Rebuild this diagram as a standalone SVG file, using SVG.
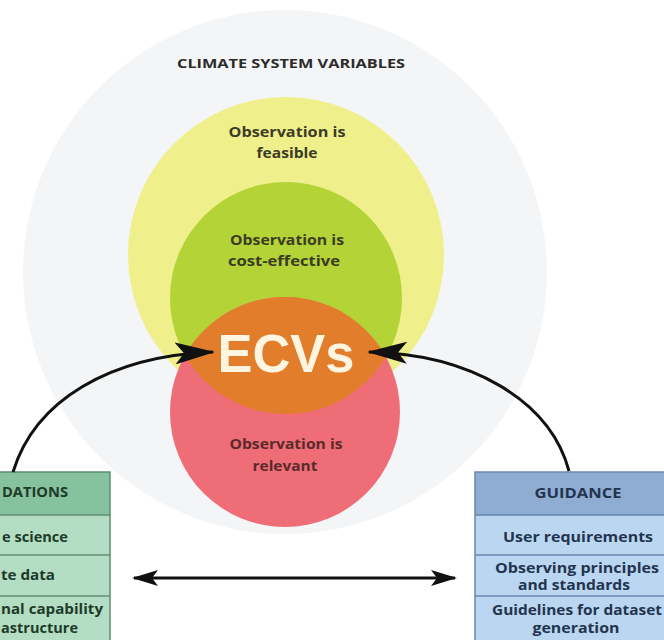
<svg xmlns="http://www.w3.org/2000/svg" width="664" height="640" viewBox="0 0 664 640">
<style>
.lbl{font-family:"Open Sans","Liberation Sans",Arial,sans-serif;font-weight:700;text-anchor:middle}
.circ{font-size:13.5px;fill:#3b3b26}
.box{font-size:13.5px}
.gtxt{fill:#1e3a28}
.btxt{fill:#23344f}
.conn{fill:none;stroke:#111;stroke-width:3}
</style>
<defs>
<marker id="headBig" markerUnits="userSpaceOnUse" viewBox="0 0 40 22" refX="38" refY="11" markerWidth="40" markerHeight="22" orient="auto">
<path d="M0,0 L40,11 L0,22 L9,11 Z" fill="#111"/>
</marker>
<marker id="headSmall" markerUnits="userSpaceOnUse" viewBox="0 0 26 16" refX="24" refY="8" markerWidth="26" markerHeight="16" orient="auto-start-reverse">
<path d="M0,0 L26,8 L0,16 L6,8 Z" fill="#111"/>
</marker>
<clipPath id="greenClip"><circle cx="286" cy="298" r="116"/></clipPath>
</defs>
<rect width="664" height="640" fill="#ffffff"/>

<g id="climate-system-variables">
<circle cx="285" cy="272" r="262" fill="#f4f5f6"/>
<text class="lbl" x="291" y="68" font-size="13" fill="#2b2b2b" textLength="228" lengthAdjust="spacingAndGlyphs">CLIMATE SYSTEM VARIABLES</text>
</g>

<g id="feasible">
<circle cx="286" cy="255" r="158" fill="#eff08b"/>
<text class="lbl circ" x="287" y="137" textLength="117" lengthAdjust="spacingAndGlyphs">Observation is</text>
<text class="lbl circ" x="287" y="158" textLength="61" lengthAdjust="spacingAndGlyphs">feasible</text>
</g>

<g id="cost-effective">
<circle cx="286" cy="298" r="116" fill="#b4d336"/>
<text class="lbl circ" x="287" y="245" textLength="114" lengthAdjust="spacingAndGlyphs">Observation is</text>
<text class="lbl circ" x="284" y="266" textLength="112" lengthAdjust="spacingAndGlyphs">cost-effective</text>
</g>

<g id="relevant">
<circle cx="285" cy="412" r="115" fill="#ee6d77"/>
<text class="lbl circ" x="286" y="449" textLength="113" lengthAdjust="spacingAndGlyphs" style="fill:#5a2a2c">Observation is</text>
<text class="lbl circ" x="285" y="471" textLength="65" lengthAdjust="spacingAndGlyphs" style="fill:#5a2a2c">relevant</text>
</g>

<g id="ecvs">
<circle cx="285" cy="412" r="115" fill="#e27d2b" clip-path="url(#greenClip)"/>
<text x="286" y="372" font-family="'Liberation Sans',Arial,sans-serif" font-weight="700" font-size="53" fill="#fff5e1" text-anchor="middle" textLength="137" lengthAdjust="spacingAndGlyphs">ECVs</text>
</g>

<g id="foundations">
<rect x="-100" y="472" width="210" height="43" fill="#86c29e"/>
<rect x="-100" y="515" width="210" height="130" fill="#b3dec4"/>
<path d="M-100,472 H110 V645 M-100,515 H110 M-100,555 H110 M-100,596 H110" fill="none" stroke="#5f8f72" stroke-width="1.5"/>
<text class="lbl box gtxt" x="68" y="497" style="text-anchor:end" textLength="66" lengthAdjust="spacingAndGlyphs">DATIONS</text>
<text class="lbl box gtxt" x="68" y="542" style="text-anchor:end" textLength="66" lengthAdjust="spacingAndGlyphs">e science</text>
<text class="lbl box gtxt" x="55" y="580" style="text-anchor:end" textLength="54" lengthAdjust="spacingAndGlyphs">te data</text>
<text class="lbl box gtxt" x="103" y="614" style="text-anchor:end" textLength="102" lengthAdjust="spacingAndGlyphs">nal capability</text>
<text class="lbl box gtxt" x="78" y="633" style="text-anchor:end" textLength="77" lengthAdjust="spacingAndGlyphs">astructure</text>
</g>

<g id="guidance">
<rect x="475" y="472" width="210" height="43" fill="#8fadd2"/>
<rect x="475" y="515" width="210" height="130" fill="#bad6f0"/>
<path d="M685,472 H475 V645 M475,515 H685 M475,555 H685 M475,596 H685" fill="none" stroke="#6a88ad" stroke-width="1.5"/>
<text class="lbl box btxt" x="578" y="498" textLength="87" lengthAdjust="spacingAndGlyphs">GUIDANCE</text>
<text class="lbl box btxt" x="578" y="542" textLength="150" lengthAdjust="spacingAndGlyphs">User requirements</text>
<text class="lbl box btxt" x="577" y="573" textLength="164" lengthAdjust="spacingAndGlyphs">Observing principles</text>
<text class="lbl box btxt" x="574" y="590" textLength="112" lengthAdjust="spacingAndGlyphs">and standards</text>
<text class="lbl box btxt" x="577" y="615" textLength="170" lengthAdjust="spacingAndGlyphs">Guidelines for dataset</text>
<text class="lbl box btxt" x="576" y="633" textLength="87" lengthAdjust="spacingAndGlyphs">generation</text>
</g>

<g id="connectors">
<path class="conn" d="M13,472 C35,400 110,356 213,352" marker-end="url(#headBig)"/>
<path class="conn" d="M569,471 C550,400 470,354 369,352" marker-end="url(#headBig)"/>
<path class="conn" d="M134,578 H455" marker-start="url(#headSmall)" marker-end="url(#headSmall)"/>
</g>
</svg>
